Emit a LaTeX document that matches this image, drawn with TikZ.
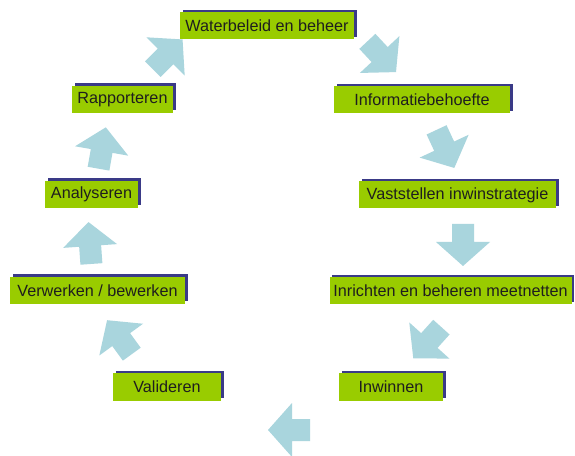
\documentclass[tikz,border=0pt]{standalone}
\usepackage{fontspec}
\setmainfont{Liberation Sans}
\usetikzlibrary{shadows}
\definecolor{boxgreen}{RGB}{153,204,0}
\definecolor{shadowblue}{RGB}{58,58,135}
\definecolor{arrowblue}{RGB}{169,213,221}
\definecolor{textdark}{RGB}{30,30,30}
\tikzset{
  stepbox/.style={fill=boxgreen, text=textdark, minimum height=27pt, inner sep=0pt,
    font=\fontsize{16.2}{19}\selectfont,
    general shadow={fill=shadowblue, shadow xshift=2.5pt, shadow yshift=2.5pt}},
  blockarrow/.pic={\fill[arrowblue] (-20,-11) -- (-2,-11) -- (-2,-27) -- (22,0)
    -- (-2,27) -- (-2,11) -- (-20,11) -- cycle;}
}
\begin{document}
\begin{tikzpicture}[x=1pt,y=1pt]
\fill[white] (0,0) rectangle (575,455);
\useasboundingbox (0,0) rectangle (575,455);
% boxes
\node[stepbox, minimum width=174pt] (wb) at (267,429) {Waterbeleid en beheer};
\node[stepbox, minimum width=176pt] (ib) at (422,355) {Informatiebehoefte};
\node[stepbox, minimum width=197pt] (vi) at (457.5,260) {Vaststellen inwinstrategie};
\node[stepbox, minimum width=242pt] (im) at (450.5,164) {Inrichten en beheren meetnetten};
\node[stepbox, minimum width=104pt] (iw) at (391,68) {Inwinnen};
\node[stepbox, minimum width=108pt] (va) at (167,68) {Valideren};
\node[stepbox, minimum width=175pt] (vb) at (97.5,164.5) {Verwerken / bewerken};
\node[stepbox, minimum width=93pt] (an) at (91.5,260.5) {Analyseren};
\node[stepbox, minimum width=101pt] (ra) at (122.5,355.5) {Rapporteren};
% block arrows
\pic[rotate=45] at (167,400) {blockarrow};
\pic[rotate=-47] at (381,399) {blockarrow};
\pic[rotate=-65] at (445,307) {blockarrow};
\pic[rotate=-90] at (463,211) {blockarrow};
\pic[rotate=-132] at (428,113) {blockarrow};
\pic[rotate=180] at (290,25) {blockarrow};
\pic[rotate=126] at (120,117) {blockarrow};
\pic[rotate=94] at (90,211) {blockarrow};
\pic[rotate=80] at (102,306) {blockarrow};
\end{tikzpicture}
\end{document}
